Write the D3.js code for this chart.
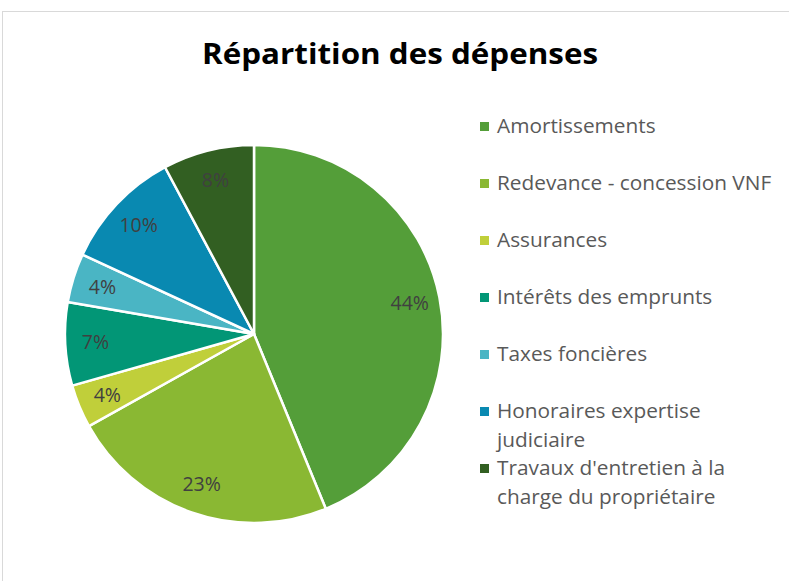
<!DOCTYPE html>
<html>
<head>
<meta charset="utf-8">
<script src="https://cdn.jsdelivr.net/npm/d3@7"></script>
<style>
  body { margin: 0; background: #fff; }
  svg { display: block; }
</style>
</head>
<body>
<svg id="chart" width="789" height="581"></svg>
<script>
const categories = ['Amortissements', 'Redevance - concession VNF', 'Assurances', 'Intérêts des emprunts', 'Taxes foncières', 'Honoraires expertise judiciaire', "Travaux d'entretien à la charge du propriétaire"]
const values = [43.8, 23.1, 3.7, 7.1, 4.2, 10.3, 7.8]
const colors = ['#549e39', '#8ab833', '#c0cf3a', '#029676', '#4ab5c4', '#0989b1', '#325f22']
const legendLines = [['Amortissements'], ['Redevance - concession VNF'], ['Assurances'], ['Intérêts des emprunts'], ['Taxes foncières'], ['Honoraires expertise', 'judiciaire'], ["Travaux d'entretien à la", 'charge du propriétaire']]

const svg = d3.select('svg#chart')
const cx = 254, cy = 334, radius = 189

// chart frame
svg.append('rect')
  .attr('x', 2.5).attr('y', 11.5)
  .attr('width', 800).attr('height', 600)
  .attr('fill', 'none')
  .attr('stroke', '#d9d9d9')

svg.append('text')
  .attr('x', 400).attr('y', 64)
  .attr('text-anchor', 'middle')
  .attr('font-family', 'Open Sans, sans-serif')
  .attr('font-weight', 'bold')
  .attr('font-size', '29px')
  .attr('textLength', 396)
  .attr('lengthAdjust', 'spacingAndGlyphs')
  .attr('fill', '#000')
  .text('Répartition des dépenses')

const total = d3.sum(values)
const pie = d3.pie().sort(null).value(d => d)
const arc = d3.arc().innerRadius(0).outerRadius(radius)
const labelArc = d3.arc().innerRadius(radius * 0.84).outerRadius(radius * 0.84)

const g = svg.append('g').attr('transform', `translate(${cx},${cy})`)

const arcs = pie(values)

g.selectAll('path')
  .data(arcs)
  .enter()
  .append('path')
  .attr('d', arc)
  .attr('fill', (d, i) => colors[i])
  .attr('stroke', '#fff')
  .attr('stroke-width', 2.5)
  .attr('stroke-linejoin', 'round')

g.selectAll('text.lbl')
  .data(arcs)
  .enter()
  .append('text')
  .attr('class', 'lbl')
  .attr('transform', d => `translate(${labelArc.centroid(d)})`)
  .attr('text-anchor', 'middle')
  .attr('dy', '0.35em')
  .attr('font-family', 'Open Sans, sans-serif')
  .attr('font-size', '19.5px')
  .attr('fill', '#404040')
  .text(d => Math.round(d.value / total * 100) + '%')

// legend
const rowY = [126.5, 183.5, 240.5, 297.5, 354.5, 411.5, 468.5]
const legend = svg.selectAll('g.leg')
  .data(categories)
  .enter()
  .append('g')
  .attr('class', 'leg')
  .attr('transform', (d, i) => `translate(480,${rowY[i]})`)

legend.append('rect')
  .attr('x', 0).attr('y', -4.5)
  .attr('width', 9).attr('height', 9)
  .attr('fill', (d, i) => colors[i])

legend.each(function (d, i) {
  const t = d3.select(this).append('text')
    .attr('font-family', 'Open Sans, sans-serif')
    .attr('font-size', '20.8px')
    .attr('fill', '#595959')
  legendLines[i].forEach((line, j) => {
    t.append('tspan')
      .attr('x', 17)
      .attr('y', j * 28.5)
      .attr('dy', '0.33em')
      .text(line)
  })
})
</script>
</body>
</html>
